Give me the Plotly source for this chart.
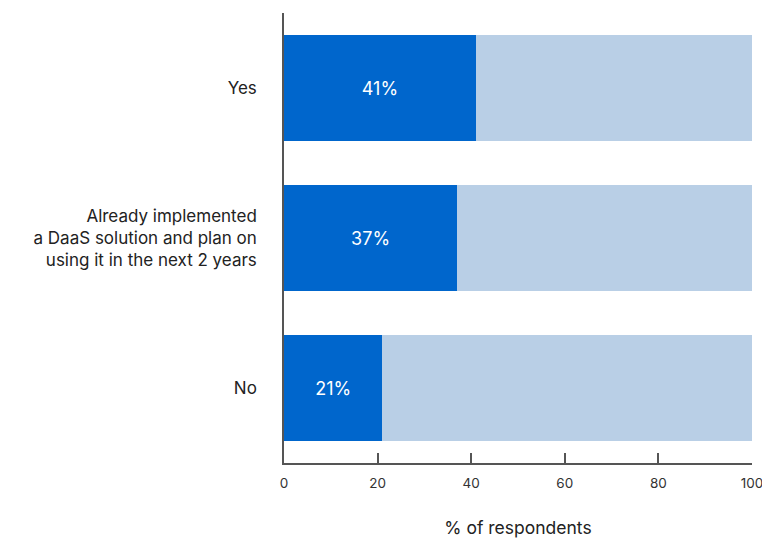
import plotly.graph_objects as go

categories = ["No", "Already implemented<br>a DaaS solution and plan on<br>using it in the next 2 years", "Yes"]
values = [21, 37, 41]
remainder = [100 - v for v in values]
labels = [f"{v}%" for v in values]

fig = go.Figure()
fig.add_trace(go.Bar(
    y=categories, x=values, orientation="h",
    marker=dict(color="#0066CC", line=dict(width=0)),
    text=labels, textposition="inside", insidetextanchor="middle",
    textfont=dict(color="white", size=18, family="Inter"),
    hoverinfo="skip",
))
fig.add_trace(go.Bar(
    y=categories, x=remainder, orientation="h",
    marker=dict(color="#B9CFE6", line=dict(width=0)),
    hoverinfo="skip",
))
fig.update_layout(
    barmode="stack", bargap=0.29,
    width=762, height=538,
    margin=dict(l=284, r=10, t=13, b=75),
    plot_bgcolor="white", paper_bgcolor="white",
    showlegend=False,
    font=dict(family="Inter", color="#222222"),
)
fig.update_xaxes(
    range=[0, 100], tickvals=[0, 20, 40, 60, 80, 100],
    showgrid=False, zeroline=False, automargin=False,
    ticklabeloverflow="allow", ticklabelstandoff=7,
    showline=True, linecolor="#555555", linewidth=1.5,
    ticks="inside", ticklen=10, tickcolor="#555555", tickwidth=1.5,
    tickfont=dict(size=13.5, color="#333333"),
    title=dict(text="% of respondents", font=dict(size=17.5, color="#222222"), standoff=32),
)
fig.update_yaxes(
    range=[-0.5, 2.5], showgrid=False, zeroline=False, automargin=False,
    showline=True, linecolor="#555555", linewidth=1.5,
    ticks="", ticklabelstandoff=22,
    tickfont=dict(size=17, color="#222222"),
)
fig.write_html("out.html", config={"displayModeBar": False},
               post_script="document.body.style.margin='0';")
